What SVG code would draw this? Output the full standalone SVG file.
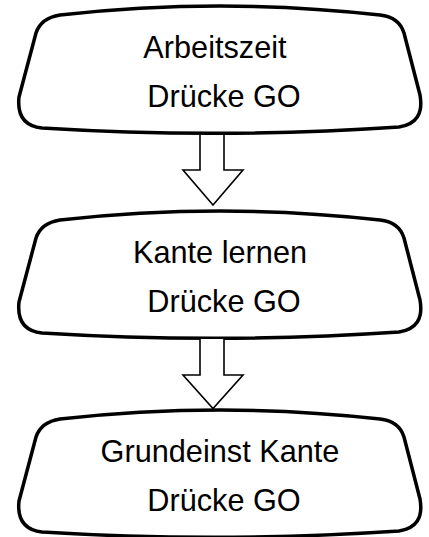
<svg xmlns="http://www.w3.org/2000/svg" xmlns:xlink="http://www.w3.org/1999/xlink" width="429" height="537" viewBox="0 0 429 537">
<style>
.shape{fill:#fff;stroke:#000;stroke-width:3.5;stroke-linejoin:round}
.arrow{fill:#fff;stroke:#000;stroke-width:1.6;stroke-linejoin:miter}
text{font-family:"Liberation Sans",Arial,sans-serif;font-size:30.7px;fill:#000;text-anchor:middle}
</style>
<defs>
<path id="box" d="M60,15 Q220,-3 380,15 Q399,17 404,33 L420,95 Q425,123 399,127 Q220,139 42,128 Q16,125 19,97 L36,33 Q41,18 60,15 Z"/>
</defs>
<rect width="429" height="537" fill="#fff"/>
<g id="node1">
<use xlink:href="#box" class="shape"/>
<text x="215" y="58">Arbeitszeit</text>
<text x="224" y="107">Drücke GO</text>
</g>
<g id="node2" transform="translate(0,205)">
<use xlink:href="#box" class="shape"/>
<text x="220" y="58">Kante lernen</text>
<text x="224" y="107">Drücke GO</text>
</g>
<g id="node3" transform="translate(0,404)">
<use xlink:href="#box" class="shape"/>
<text x="220" y="57.5">Grundeinst Kante</text>
<text x="224" y="107">Drücke GO</text>
</g>
<g id="connectors">
<path class="arrow" d="M200,135 V170 H183 L213,205 L243,170 H224 V135"/>
<path class="arrow" d="M200,339 V375 H183 L213,408.5 L243,375 H224 V339"/>
</g>
</svg>
